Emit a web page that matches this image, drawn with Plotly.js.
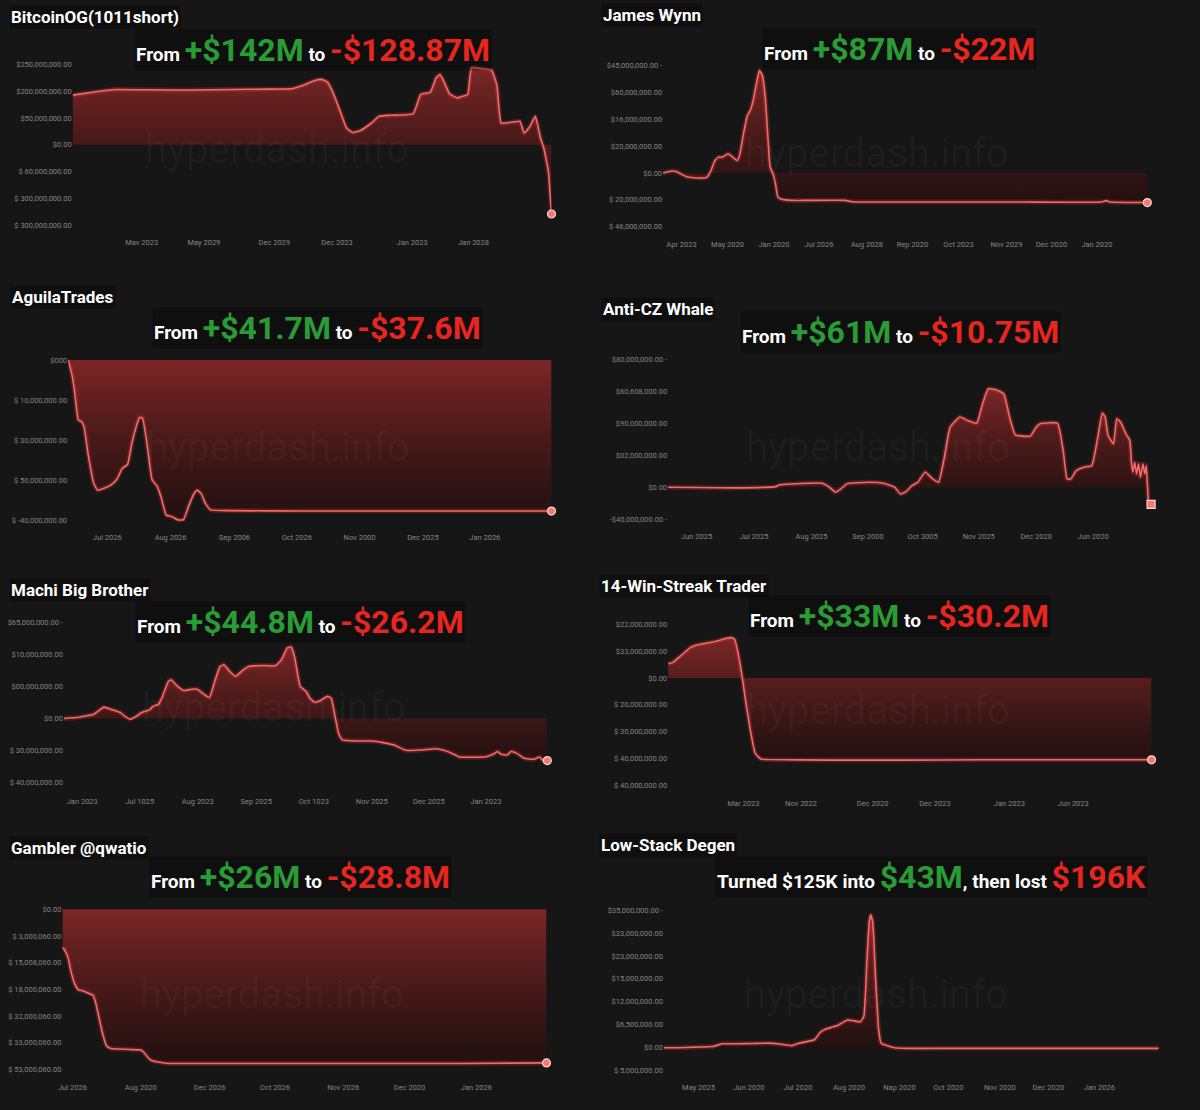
<!DOCTYPE html>
<html><head><meta charset="utf-8">
<script src="https://cdn.plot.ly/plotly-3.0.1.min.js"></script>
<style>html,body{margin:0;padding:0;background:#161616;}#chart{width:1200px;height:1110px;}</style>
</head><body><div id="chart"></div>
<script>
// ---------- DATA (x = position along each panel's time axis, 0..100; y = PnL in $M) ----------
const btcX = [0,4.8,8.8,16.8,24.8,32.8,40.8,45.6,48,50.4,52,53.2,54.4,56,57.2,58.4,60,62.4,64,66.3,71.1,72.7,74.7,75.9,76.7,77.5,78.7,80.3,81.5,82.5,83.3,85.5,87.5,88.6,89.5,91.9,93.4,94.3,95.5,96.6,97.1,97.7,98.3,98.9,99.4,99.7,100];
const btcY = [92.5,98.8,103,102.5,102,103,103.8,104.4,110.6,119.4,121.9,116.9,96.9,59.4,31.3,23.1,26.3,40.6,53.1,55,58.1,93.8,98.1,125,131,118.8,95,87.5,90.6,93.8,143.8,141.9,138.8,110.6,40.6,42.5,43.8,21.9,34.4,53.1,37.5,12.5,-3.1,-28,-53,-90.6,-128.9];
const btcYTicks = [150,100,50,0,-50,-100,-150];
const btcYLabels = ['$250,000,000.00','$200,000,000.00','$50,000,000.00','$0.00','$ 60,000,000.00','$ 300,000,000.00','$ 300,000,000.00'];
const btcXTicks = [14.4,27.4,42.1,55.2,70.9,83.7];
const btcXLabels = ['Mav 2023','May 2029','Dec 2029','Dec 2023','Jan 2023','Jan 2028'];

const jwX = [0,0.8,2,2.8,3.6,4.7,6.3,8.3,9.1,9.9,10.7,11.5,12.3,13.4,14.2,15.3,15.8,16.6,17.4,18,18.6,19.4,19.9,20.5,21.1,21.6,22.1,22.7,23.2,23.7,24.5,26.5,30.4,37.5,39.1,42.3,58.1,73.9,90.5,91.5,92.3,100];
const jwY = [0,0.8,1.5,1,-0.5,-2.5,-3.5,-3.7,-3,2,9.4,11.9,11.9,14.4,12.4,9.4,13.2,29.3,43,46.7,54.2,69.1,76.5,72.8,56.6,29.3,4.5,-0.5,-8,-17.9,-19.6,-20.4,-20.4,-20.4,-21.4,-21.6,-21.6,-21.6,-21.6,-20.6,-21.6,-22];
const jwYTicks = [80,60,40,20,0,-20,-40];
const jwYLabels = ['$45,000,000.00 -','$60,000,000.00','$16,000,000.00','$20,000,000.00','$0.00','$ 20,000,000.00','$ 46,000,000.00'];
const jwXTicks = [3.8,13.3,22.9,32.2,42.1,51.5,61.0,70.9,80.2,89.6];
const jwXLabels = ['Apr 2023','May 2020','Jan 2020','Jul 2026','Aug 2028','Rep 2020','Oct 2023','Nov 2029','Dec 2020','Jan 2020'];

const agX = [0,0.4,0.8,1.3,2.1,2.8,3.3,4.1,5.3,6.1,7.3,8.9,10.1,11.2,12.3,13.2,14.3,14.8,15.4,16.4,17.4,18.4,19.2,20.3,21.5,22.7,23.9,24.9,25.9,26.7,27.5,28.4,29.5,33.4,49.2,65.1,80.9,100];
const agY = [0,-1.8,-3.7,-7.5,-14.9,-15.4,-16.6,-23.2,-30.7,-32.4,-32,-31.1,-29.7,-27,-26,-20.7,-15.8,-14.3,-14.5,-21.6,-29.9,-31.4,-34,-38.6,-39,-39.8,-39.7,-36.5,-33.6,-32.4,-33.2,-35.7,-37.3,-37.5,-37.6,-37.6,-37.6,-37.6];
const agYTicks = [0,-10,-20,-30,-40];
const agYLabels = ['$000','$ 10,000,000.00','$ 30,000,000.00','$ 50,000,000.00','$ -40,000,000.00'];
const agXTicks = [8.1,21.2,34.4,47.3,60.3,73.4,86.2];
const agXLabels = ['Jul 2026','Aug 2026','Sep 2006','Oct 2026','Nov 2000','Dec 2025','Jan 2026'];

const czX = [0,5.7,13.6,22.3,23.1,31.9,33.4,34.6,35.8,37,41.4,44.5,46.9,48.1,49.3,50.5,51.7,53.2,54.8,56,57.2,58.4,60.4,62,63.9,65.1,66.3,67.9,69.5,70.7,71.9,75,76.2,77,80.6,81.8,82.6,83.4,84.5,86.1,87.7,88.9,89.9,90.5,91.1,92.2,92.9,93.7,94.8,95.6,95.9,96.2,96.6,97,97.4,97.8,98.3,98.7,99,99.3,99.5,99.8,100];
const czY = [0,-0.2,-0.4,0.4,1.5,2.5,0,-3.1,-1,2.1,3.1,2.5,0,-4.2,-2.7,1,3.1,9.4,5.2,3.1,18.8,37.5,43.8,41.7,40,52.1,61.5,60.8,58.3,43.8,32.7,31.9,37.5,39.6,40,22.9,5.2,5.2,10.4,12.5,13.5,30.2,46.3,43.8,32.3,27.1,42.7,40.6,33.3,29.2,16.7,9.4,15.6,8.3,14.6,6.3,14.6,8.3,13.5,-2.1,-10.4,-10.8,-10.75];
const czYTicks = [80,60,40,20,0,-20];
const czYLabels = ['$80,000,000.00 -','$60,608,000.00','$90,000,000.00','$02,000,000.00','$0.00','-$40,000,000.00 -'];
const czXTicks = [5.9,17.8,29.7,41.4,52.7,64.3,76.2,88];
const czXLabels = ['Jun 2025','Jul 2025','Aug 2025','Sep 2000','Oct 3005','Nov 2025','Dec 2020','Jun 2020'];

const mbX = [0,2.6,5,6.2,7.4,8.3,9.7,11.7,12.5,13.7,14.9,16.1,17.7,18.4,19.6,20.4,21.6,22.2,23.2,24.8,26.4,27.6,28.7,30.1,31.1,32.3,33.1,34.3,35.5,37.1,38.2,40.6,43.8,45,46.2,47,47.7,48.9,50.1,50.9,51.9,52.9,54.5,55.3,56.1,56.8,57.6,60.4,63.6,66,68.3,70.7,73.9,77,78.6,81,81.8,87.3,88.9,89.7,90.5,91.7,92.5,93.7,95.2,97.2,98.4,99,100];
const mbY = [0,0.6,1.9,2.7,5.4,7.1,5.8,3.8,1.7,-0.4,1.3,3.8,5.4,7.5,9,13.8,23.1,24.2,21,17.5,18.3,18.3,15.8,13.1,22.1,32.5,33.5,29.4,26.3,30.4,32.5,33.1,33.1,36.7,44,44.6,38.8,20,16.9,12.7,10.2,11,13.8,12.7,1.3,-9.2,-13.3,-14,-14,-15,-16.5,-19.8,-19.6,-18.8,-19.8,-22.7,-24,-23.8,-22.1,-20.6,-22.3,-22.7,-20.6,-21.7,-24.8,-25.4,-24,-25.8,-26.2];
const mbYTicks = [60,40,20,0,-20,-40];
const mbYLabels = ['$65,000,000.00 -','$10,000,000.00','$00,000,000.00','$0.00','$ 30,000,000.00','$ 40,000,000.00'];
const mbXTicks = [3.8,15.7,27.7,39.8,51.7,63.7,75.5,87.3];
const mbXLabels = ['Jan 2023','Jul 1025','Aug 2023','Sep 2025','Oct 1023','Nov 2025','Dec 2025','Jan 2023'];

const wsX = [0,1,2.1,3.3,4.5,5.7,7.3,8.9,10.5,12,13.2,13.8,14.4,15.2,16,17,18,19.2,20.7,33.4,49.2,65.1,80.9,100];
const wsY = [5.3,5.8,7.5,9.3,11.2,12.2,12.8,13.3,14,14.8,15,14.3,9.9,1.9,-8.1,-19.3,-28,-30.2,-30.4,-30.6,-30.6,-30.5,-30.5,-30.5];
const wsYTicks = [20,10,0,-10,-20,-30,-40];
const wsYLabels = ['$22,000,000.00','$33,000,000.00','$0.00','$ 20,000,000.00','$ 30,000,000.00','$ 40,000,000.00','$ 40,000,000.00'];
const wsXTicks = [15.6,27.5,42.3,55.2,70.6,83.8];
const wsXLabels = ['Mar 2023','Nov 2022','Dec 2020','Dec 2023','Jan 2023','Jun 2023'];

const gbX = [0,0.55,1.2,1.7,2.5,3.3,4.3,5.5,6.3,6.9,7.5,8.3,9.1,10,11.6,14,16.2,16.8,17.5,18.3,19.5,21.9,34.5,50.4,66.2,82,100];
const gbY = [-7.1,-7.8,-9.2,-11.4,-13.9,-15.1,-15.3,-15.8,-16.1,-17.6,-20.1,-23.3,-25.6,-26.1,-26.2,-26.3,-26.4,-26.8,-27.6,-28.3,-28.6,-28.9,-28.9,-28.9,-28.9,-28.9,-28.8];
const gbYTicks = [0,-5,-10,-15,-20,-25,-30];
const gbYLabels = ['$0.00','$ 3,000,060.00','$ 15,008,060.00','$ 18,000,060.00','$ 32,000,060.00','$ 33,000,060.00','$ 53,000,060.00'];
const gbXTicks = [2.1,16.2,30.4,43.9,58,71.7,85.5];
const gbXLabels = ['Jul 2026','Aug 2020','Dec 2026','Oct 2026','Nov 2026','Dec 2020','Jan 2026'];

const lsX = [0,2.6,6.4,9.9,11.1,11.8,14.9,18,21.1,23.4,25.8,27.3,28.8,30.4,31.6,32.7,33.9,35,36.2,37,38.1,39.7,40.4,41,41.5,41.8,42.2,42.8,43.4,43.9,45.1,46.6,49,56.7,64.4,72.2,79.9,87.6,100];
const lsY = [0,0,0.2,0.4,1,1.3,1.3,1.4,1.5,1.2,0.7,1.5,2,2.6,5,6.1,6.7,7.2,8.3,9,8.9,8.5,10.2,27.6,41.2,43.4,41.2,22.2,5.9,1.5,0.7,0,-0.2,-0.2,-0.2,-0.2,-0.2,-0.2,-0.2];
const lsYTicks = [45,37.5,30,22.5,15,7.5,0,-7.5];
const lsYLabels = ['$35,000,000.00 -','$33,000,000.00','$23,000,000.00','$15,000,000.00','$12,000,000.00','$6,500,000.00','$0.00','$ 5,000,000.00'];
const lsXTicks = [7,17.2,27.1,37.4,47.6,57.5,67.9,77.7,88];
const lsXLabels = ['May 2025','Jun 2020','Jul 2020','Aug 2020','Nap 2020','Oct 2020','Nov 2020','Dec 2020','Jan 2026'];

const names = ['BitcoinOG(1011short)','James Wynn','AguilaTrades','Anti-CZ Whale','Machi Big Brother','14-Win-Streak Trader','Gambler @qwatio','Low-Stack Degen'];
const gains = ['+$142M','+$87M','+$41.7M','+$61M','+$44.8M','+$33M','+$26M','$43M'];
const losses = ['-$128.87M','-$22M','-$37.6M','-$10.75M','-$26.2M','-$30.2M','-$28.8M','$196K'];

// ---------- LAYOUT / STYLE ----------
const W = 1200, H = 1110;
const GREEN = '#2a9c35', RED = '#e6261f';
const panels = [
  {x:btcX,y:btcY,xt:btcXTicks,xl:btcXLabels,yt:btcYTicks,yl:btcYLabels,px:[72.7,551.5],ty:[150,64.3,-150,225.3],dom:[58,236],tp:[9,17],sp:[313,50],wm:[277,150],mk:'circle'},
  {x:jwX,y:jwY,xt:jwXTicks,xl:jwXLabels,yt:jwYTicks,yl:jwYLabels,px:[663.1,1147.3],ty:[80,65.7,-40,226.7],dom:[58,238],tp:[601,15],sp:[899,49],wm:[877,153],mk:'circle'},
  {x:agX,y:agY,xt:agXTicks,xl:agXLabels,yt:agYTicks,yl:agYLabels,px:[68.1,551.5],ty:[0,360,-40,520.7],dom:[354,531.7],tp:[10,297],sp:[317,328],wm:[278,447],mk:'circle'},
  {x:czX,y:czY,xt:czXTicks,xl:czXLabels,yt:czYTicks,yl:czYLabels,px:[668.1,1151.1],ty:[80,359,-20,519.3],dom:[352,530],tp:[601,309],sp:[900,332],wm:[878,447],mk:'square'},
  {x:mbX,y:mbY,xt:mbXTicks,xl:mbXLabels,yt:mbYTicks,yl:mbYLabels,px:[63.9,547.3],ty:[60,622.3,-40,782.7],dom:[616,795],tp:[9,590],sp:[300,622],wm:[274,707],mk:'circle'},
  {x:wsX,y:wsY,xt:wsXTicks,xl:wsXLabels,yt:wsYTicks,yl:wsYLabels,px:[668.1,1151.5],ty:[20,624.3,-40,785.3],dom:[618,797],tp:[599,586],sp:[899,616],wm:[878,710],mk:'circle'},
  {x:gbX,y:gbY,xt:gbXTicks,xl:gbXLabels,yt:gbYTicks,yl:gbYLabels,px:[62.4,546.5],ty:[0,909.3,-30,1069.3],dom:[903,1081],tp:[9,848],sp:[300,877],wm:[272,995],mk:'circle'},
  {x:lsX,y:lsY,xt:lsXTicks,xl:lsXLabels,yt:lsYTicks,yl:lsYLabels,px:[663.9,1158.7],ty:[45,910,-7.5,1070.7],dom:[903,1081],tp:[599,845],sp:[932,877],wm:[876,995],mk:null}
];

const traces = [];
const layout = {
  width: W, height: H, margin:{l:0,r:0,t:0,b:0},
  paper_bgcolor:'#161616', plot_bgcolor:'#161616',
  showlegend:false, font:{family:'Roboto, sans-serif', color:'#ffffff'},
  annotations: []
};
const big = s => '<span style="font-size:32px">' + s + '</span>';

panels.forEach((p, i) => {
  const n = i === 0 ? '' : String(i + 1);
  const xr = 'x' + n, yr = 'y' + n;
  const [v1, p1, v2, p2] = p.ty;
  const s = (v1 - v2) / (p2 - p1);
  const val = pp => v1 - (pp - p1) * s;
  layout['xaxis' + n] = {
    domain:[p.px[0]/W, p.px[1]/W], range:[0,100], anchor:yr,
    showgrid:false, zeroline:false, showline:false, ticks:'',
    tickmode:'array', tickvals:p.xt, ticktext:p.xl,
    tickfont:{size:7.5, color:'#858585', family:'Roboto, sans-serif'}, fixedrange:true
  };
  layout['yaxis' + n] = {
    domain:[1 - p.dom[1]/H, 1 - p.dom[0]/H], range:[val(p.dom[1]), val(p.dom[0])], anchor:xr,
    showgrid:false, zeroline:false, showline:false, ticks:'',
    tickmode:'array', tickvals:p.yt, ticktext:p.yl,
    tickfont:{size:7.5, color:'#858585', family:'Roboto, sans-serif'}, fixedrange:true
  };
  traces.push({
    type:'scatter', mode:'lines', x:p.x, y:p.y, xaxis:xr, yaxis:yr,
    line:{color:'rgba(255,70,70,0.22)', width:5, shape:'spline', smoothing:0.4},
    fill:'tozeroy',
    fillgradient:{type:'vertical', colorscale:[[0,'rgba(45,12,12,0.55)'],[1,'rgba(150,42,42,0.8)']]},
    hoverinfo:'skip'
  });
  traces.push({
    type:'scatter', mode:'lines', x:p.x, y:p.y, xaxis:xr, yaxis:yr,
    line:{color:'#f36a66', width:1.6, shape:'spline', smoothing:0.4}, hoverinfo:'skip'
  });
  if (p.mk) {
    traces.push({
      type:'scatter', mode:'markers', x:[p.x[p.x.length-1]], y:[p.y[p.y.length-1]], xaxis:xr, yaxis:yr,
      marker:{symbol:p.mk, size:8, color:'#f07a72', line:{color:'#ffd6cf', width:1.2}},
      cliponaxis:false, hoverinfo:'skip'
    });
  }
  layout.annotations.push({
    xref:'paper', yref:'paper', x:p.wm[0]/W, y:1 - p.wm[1]/H, xanchor:'center', yanchor:'middle',
    text:'hyperdash.info', showarrow:false, font:{size:40, color:'rgba(255,255,255,0.035)', family:'Roboto, sans-serif'}
  });
  layout.annotations.push({
    xref:'paper', yref:'paper', x:p.tp[0]/W, y:1 - p.tp[1]/H, xanchor:'left', yanchor:'middle',
    text:'<b>' + names[i] + '</b>', showarrow:false, bgcolor:'rgba(0,0,0,0.3)', borderpad:1,
    font:{size:17, color:'#ffffff', family:'Roboto, sans-serif'}
  });
  let sub;
  if (i === 7) {
    sub = '<b>Turned $125K into <span style="color:' + GREEN + '">' + big(gains[i]) + '</span>, then lost <span style="color:' + RED + '">' + big(losses[i]) + '</span></b>';
  } else {
    sub = '<b>From <span style="color:' + GREEN + '">' + big(gains[i]) + '</span> to <span style="color:' + RED + '">' + big(losses[i]) + '</span></b>';
  }
  layout.annotations.push({
    xref:'paper', yref:'paper', x:p.sp[0]/W, y:1 - p.sp[1]/H, xanchor:'center', yanchor:'middle',
    text:sub, showarrow:false, bgcolor:'rgba(0,0,0,0.3)', borderpad:1,
    font:{size:19, color:'#ffffff', family:'Roboto, sans-serif'}
  });
});

Plotly.newPlot('chart', traces, layout, {displayModeBar:false, staticPlot:true});
</script>
</body></html>
